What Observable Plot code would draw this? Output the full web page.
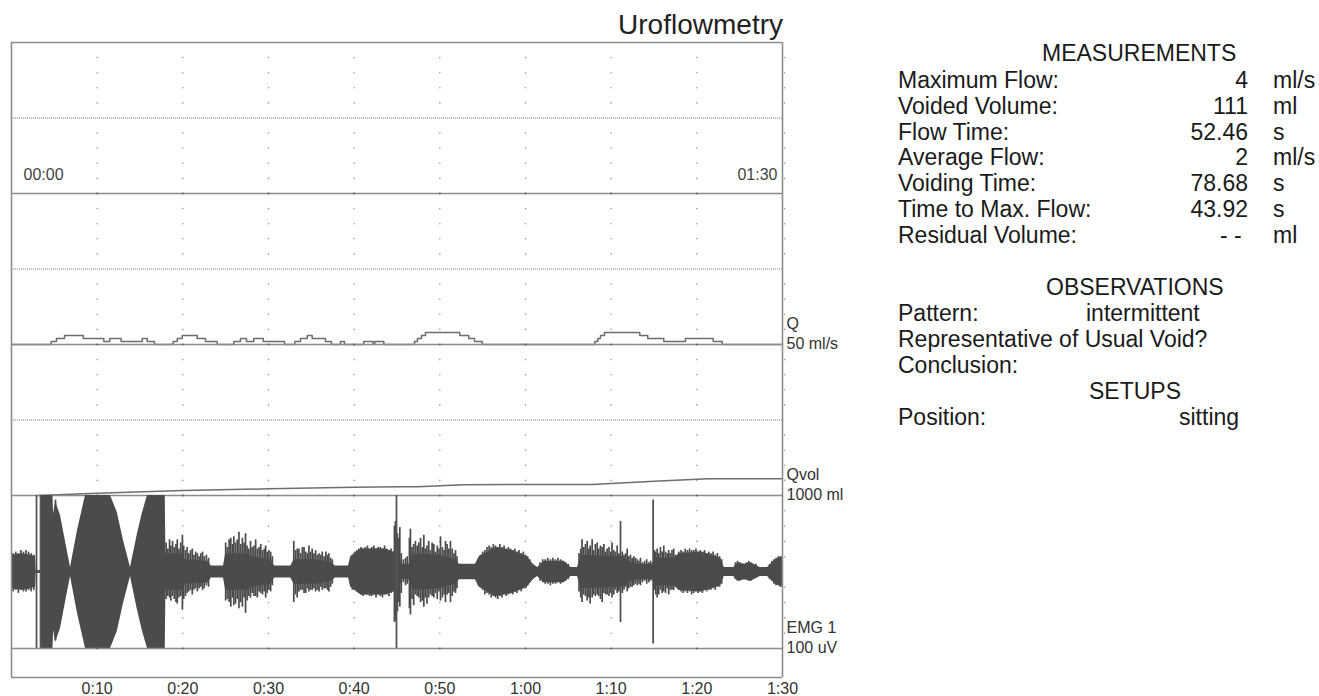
<!DOCTYPE html>
<html>
<head>
<meta charset="utf-8">
<script src="https://cdn.jsdelivr.net/npm/d3@7"></script>
<script src="https://cdn.jsdelivr.net/npm/@observablehq/plot@0.6"></script>
<style>
  html, body { margin: 0; padding: 0; background: #fff; }
  #root { position: relative; width: 1319px; height: 696px; overflow: hidden; font-family: "Liberation Sans", Arial, Helvetica, sans-serif; }
  .layer { position: absolute; left: 0; }
  .txt { position: absolute; white-space: pre; }
</style>
</head>
<body>
<div id="root"></div>
<script>
// ---------------- DATA ----------------
const timeTicks = [10, 20, 30, 40, 50, 60, 70, 80, 90];
const timeTickLabels = ["0:10", "0:20", "0:30", "0:40", "0:50", "1:00", "1:10", "1:20", "1:30"];
const subdivisions = [1, 2, 3, 4, 6, 7, 8, 9];

const channelNames = ["", "Q", "Qvol", "EMG 1"];
const channelScales = ["", "50 ml/s", "1000 ml", "100 uV"];
const channelDomains = [[0, 1], [0, 50], [0, 1000], [-50, 50]];
const startLabel = "00:00";
const endLabel = "01:30";

// Flow Q (ml/s), step trace [time s, flow]
const qSteps = [[0,0],[4.63,1],[5.25,2],[6.19,3],[8.37,2],[10.77,1],[11.47,2],[12.8,1],[15.26,2],[15.84,1],[16.69,0],
  [18.87,1],[19.34,2],[19.93,3],[21.68,2],[22.65,1],[24.01,0],
  [25.95,1],[26.73,2],[27.43,1],[28.28,2],[29.38,1],[31.87,0],
  [33.07,1],[33.73,2],[34.52,3],[35.1,2],[36.65,1],[37.35,0],
  [38.4,1],[38.87,0],[41.12,1],[42.2,0],[42.4,1],[43.46,0],
  [47.04,1],[47.39,2],[47.86,3],[48.32,4],[52.33,3],[53.38,2],[54.05,1],[54.94,0],
  [68.09,1],[68.44,2],[68.75,3],[69.22,4],[73.34,3],[74.27,2],[76.14,1],[78.67,2],[81.91,1],[82.96,0],[90,0]];

// Voided volume Qvol (ml) [time s, volume]
const volume = [[3.0,0],[10,15],[20,33],[30,44],[40,54],[45.4,58],[47.4,58],[52.8,72],[67.8,73],[75,95],[81.3,111],[90,111]];

// EMG core envelope [time s, amplitude uV]
const emgEnvelope = [[0,11],[1.2,12],[2.2,11],[2.8,10],[2.88,1],[3.4,1],[3.45,50],[4.84,50],[4.92,38],[5.14,46],[5.72,37],[6.3,20],[6.89,3],
  [7.7,27],[8.64,50],[11.56,50],[12.34,39],[13.1,20],[13.89,3],[14.67,24],[15.26,38],[15.87,50],[17.95,50],[18.02,12],[19.96,12],[20.3,8],
  [23.0,7],[23.3,4],[24.75,4],[25.0,12],[27.55,12],[28.2,10],[30.3,8],[30.7,4],[32.6,4],[33.0,8],[35.5,8],[37.4,6],
  [37.8,4],[39.34,4],[39.6,10],[40.8,15],[43.6,15],[44.6,13],[45.0,14],[45.6,5],[46.4,5],[46.9,12],[50.0,11],[51.8,8],
  [52.3,5],[54.16,5],[54.6,10],[56.5,16],[58.5,14],[60.2,10],[60.9,5],[61.4,3],[62.2,7],[64.5,7],[65.3,3],[66.07,3],
  [66.5,11],[71.4,10],[72.0,7],[73.1,5],[74.8,5],[75.2,9],[77.4,9],[77.9,12],[80.5,13],[82.8,9],[83.2,3],[84.3,3],
  [84.8,6],[85.6,5],[86.3,6],[87.4,3],[88.25,3],[89.2,8],[90,10]];

// EMG spikes [time s, high uV, low uV]
const emgSpikes = [
  [0.2,12,-13],[0.5,13,-12],[0.8,12,-14],[1.1,14,-12],[1.4,13,-13],[1.7,14,-13],[2.0,13,-12],[2.3,12,-13],[2.6,11,-12],
  [5.14,47,-45],
  [18.05,19,-18],[18.25,15,-16],[18.45,21,-17],[18.6,17,-19],[18.8,20,-16],[19.0,16,-18],[19.2,18,-20],[19.35,21,-21],
  [19.55,15,-17],[19.75,19,-16],[19.95,24,-25],[20.1,17,-18],
  [20.3,14,-16],[20.5,16,-14],[20.7,12,-13],[20.9,14,-12],[21.1,15,-15],[21.3,11,-12],[21.5,13,-11],[21.7,12,-13],
  [21.9,10,-11],[22.1,12,-10],[22.3,13,-12],[22.5,10,-11],[22.75,11,-9],[23.0,9,-10],
  [25.0,19,-19],[25.2,16,-18],[25.4,21,-20],[25.6,22,-23],[25.8,18,-17],[25.95,23,-22],[26.15,19,-21],[26.35,21,-18],
  [26.55,26,-24],[26.75,18,-20],[26.95,22,-23],[27.15,19,-17],[27.32,25,-27],[27.5,17,-19],
  [27.7,15,-16],[27.9,20,-17],[28.1,16,-14],[28.3,17,-16],[28.5,21,-16],[28.7,15,-17],[28.9,16,-13],[29.1,18,-14],
  [29.3,14,-15],[29.5,15,-13],[29.67,17,-17],[29.85,13,-14],[30.05,14,-12],[30.25,13,-13],[30.45,10,-9],
  [32.95,20,-20],[33.15,14,-15],[33.35,15,-17],[33.55,15,-13],[33.75,12,-12],[33.95,16,-12],[34.15,16,-14],[34.35,13,-14],
  [34.55,12,-11],[34.72,17,-13],[34.9,13,-12],[35.1,15,-12],[35.3,12,-11],[35.5,14,-13],[35.7,11,-12],[35.9,12,-13],
  [36.1,11,-10],[36.28,13,-12],[36.5,10,-11],[36.7,13,-11],[36.9,11,-12],[37.05,12,-13],[37.25,9,-10],[37.45,8,-8],
  [39.8,11,-12],[40.05,13,-12],[40.3,14,-13],[40.55,15,-14],[40.8,16,-15],[41.05,15,-16],[41.3,16,-15],[41.55,17,-15],
  [41.8,15,-16],[42.05,16,-16],[42.3,17,-15],[42.55,15,-17],[42.8,16,-15],[43.05,16,-16],[43.3,15,-17],[43.55,17,-15],
  [43.8,15,-15],[44.05,14,-16],[44.3,15,-14],
  [44.7,30,-33],[44.82,33,-32],[45.05,25,-26],[45.2,22,-20],[45.33,29,-23],[45.5,12,-14],[45.75,8,-7],[46.0,9,-9],
  [46.2,10,-8],[46.45,22,-24],[46.57,28,-28],[46.75,16,-18],[46.95,18,-22],[47.15,20,-15],[47.35,17,-16],[47.55,19,-17],
  [47.75,22,-20],[47.95,16,-19],[48.13,24,-23],[48.3,15,-17],[48.5,17,-21],[48.7,20,-17],[48.9,14,-15],[49.1,19,-16],
  [49.3,18,-17],[49.5,13,-14],[49.7,17,-18],[49.9,15,-13],[50.08,23,-19],[50.3,16,-17],[50.5,14,-15],[50.66,20,-20],
  [50.85,18,-15],[51.05,15,-14],[51.24,20,-20],[51.45,15,-16],[51.65,12,-13],[51.83,14,-14],[52.0,10,-11],
  [54.5,8,-9],[54.75,11,-10],[55.0,13,-12],[55.25,14,-15],[55.5,16,-14],[55.75,17,-15],[56.0,16,-17],[56.25,18,-16],
  [56.5,17,-17],[56.75,16,-18],[57.0,18,-16],[57.25,16,-17],[57.5,17,-15],[57.75,15,-16],[58.0,16,-15],[58.25,15,-14],
  [58.5,14,-15],[58.75,15,-13],[59.0,13,-14],[59.25,14,-12],[59.5,12,-13],[59.75,13,-11],[60.0,11,-11],[60.25,10,-9],[60.5,8,-7],
  [61.7,6,-6],[62.0,8,-7],[62.3,8,-8],[62.6,9,-8],[62.9,8,-9],[63.2,9,-8],[63.5,8,-8],[63.8,9,-7],[64.1,8,-8],[64.4,7,-7],
  [64.7,6,-6],[65.0,5,-5],
  [66.25,12,-13],[66.45,15,-17],[66.6,21,-20],[66.8,16,-15],[67.0,18,-16],[67.2,20,-19],[67.4,15,-17],[67.55,17,-21],
  [67.78,21,-17],[67.95,14,-15],[68.15,18,-16],[68.37,19,-15],[68.55,15,-16],[68.75,17,-18],[68.95,16,-20],[69.15,18,-14],
  [69.35,13,-15],[69.53,15,-15],[69.75,16,-16],[69.95,13,-14],[70.1,19,-17],[70.3,14,-15],[70.5,13,-12],[70.7,17,-14],
  [70.9,12,-13],[71.09,33,-33],[71.3,13,-14],[71.5,11,-12],
  [71.7,12,-10],[71.87,15,-13],[72.05,10,-11],[72.25,11,-10],[72.45,9,-10],[72.65,10,-9],[72.85,9,-8],[73.05,8,-9],
  [73.25,7,-8],[73.42,9,-9],[73.65,6,-7],[73.9,7,-6],[74.15,8,-8],[74.4,6,-7],[74.6,7,-6],
  [74.9,47,-47],[75.05,14,-12],[75.2,13,-15],[75.37,15,-17],[75.55,12,-15],[75.75,16,-12],[75.95,13,-14],[76.14,17,-13],
  [76.35,13,-14],[76.55,12,-11],[76.72,14,-15],[76.9,12,-12],[77.1,14,-12],[77.3,15,-12],[77.5,11,-10],
  [77.9,13,-12],[78.15,14,-13],[78.4,13,-14],[78.65,15,-13],[78.9,14,-14],[79.15,15,-13],[79.4,14,-15],[79.65,14,-14],
  [79.9,15,-13],[80.15,13,-14],[80.4,14,-13],[80.65,13,-14],[80.9,14,-12],[81.15,12,-13],[81.4,13,-12],[81.65,12,-12],
  [81.9,13,-11],[82.15,11,-12],[82.4,12,-10],[82.65,10,-10],[82.9,8,-8],
  [84.5,6,-5],[84.75,7,-6],[85.0,6,-6],[85.5,5,-5],[85.8,6,-5],[86.05,7,-6],[86.3,6,-6],[86.6,5,-5],[86.9,5,-4],
  [88.5,5,-5],[88.75,7,-6],[89.0,8,-8],[89.25,9,-9],[89.5,10,-9],[89.75,10,-10]];

// full-scale EMG artefact lines (time s)
const emgArtefacts = [2.92, 3.39, 44.94];

const title = "Uroflowmetry";
const measHeader = "MEASUREMENTS";
const measureLabels = ["Maximum Flow:", "Voided Volume:", "Flow Time:", "Average Flow:", "Voiding Time:", "Time to Max. Flow:", "Residual Volume:"];
const measureValues = ["4", "111", "52.46", "2", "78.68", "43.92", "- - "];
const measureUnits = ["ml/s", "ml", "s", "ml/s", "s", "s", "ml"];
const obsHeader = "OBSERVATIONS";
const obsLabels = ["Pattern:", "Representative of Usual Void?", "Conclusion:"];
const obsValues = ["intermittent", "", ""];
const setupHeader = "SETUPS";
const setupLabels = ["Position:"];
const setupValues = ["sitting"];

// ---------------- LAYOUT ----------------
const FONT = "'Liberation Sans', Arial, Helvetica, sans-serif";
const root = document.getElementById("root");
const X0 = 11, X1 = 782, W = 860;
const LINE = "#8c8c8c";
const TRACE = "#6e6e6e";
const EMG = "#4b4b4b";
const LABEL = "#333";
const sections = [42, 193, 344, 495, 648];
const frameBottom = 677;

function addLayer(svg, top) {
  const div = document.createElement("div");
  div.className = "layer";
  div.style.top = top + "px";
  div.appendChild(svg);
  root.appendChild(div);
}

function channel(i, marks) {
  const pad = 6;
  const top = sections[i], bottom = sections[i + 1];
  const h = bottom - top;
  const domain = channelDomains[i];
  const [d0, d1] = domain;
  const dots = [];
  for (const t of timeTicks) for (const k of subdivisions) dots.push({t, v: d0 + (d1 - d0) * k / 10});
  const lineTicks = timeTicks.filter(t => t < 90);
  const labelMarks = [];
  if (channelNames[i]) {
    labelMarks.push(Plot.text([channelNames[i]], {x: 90, y: d0, dx: 4, dy: -21, textAnchor: "start", fontSize: 16, fill: LABEL}));
    labelMarks.push(Plot.text([channelScales[i]], {x: 90, y: d0, dx: 4, dy: -1, textAnchor: "start", fontSize: 16, fill: LABEL}));
  }
  const svg = Plot.plot({
    width: W, height: h + 2 * pad,
    marginLeft: X0, marginRight: W - X1, marginTop: pad, marginBottom: pad,
    x: {domain: [0, 90], axis: null},
    y: {domain, axis: null},
    style: {background: "transparent", overflow: "visible", fontFamily: FONT},
    marks: [
      Plot.dot(dots.filter(d => d.t < 90), {x: "t", y: "v", r: 0.8, fill: "#9a9a9a", stroke: null}),
      Plot.dot(dots.filter(d => d.t === 90), {x: "t", y: "v", r: 0.8, dx: 2, fill: "#9a9a9a", stroke: null}),
      Plot.ruleY([(d0 + d1) / 2], {stroke: "#777", strokeDasharray: "1,1", strokeWidth: 1}),
      ...marks,
      Plot.ruleY([d0], {stroke: LINE, strokeWidth: 1.6}),
      ...(i === 0 ? [Plot.ruleY([d1], {stroke: LINE, strokeWidth: 1.6})] : []),
      Plot.ruleX([0, 90], {stroke: LINE, strokeWidth: 1.6}),
      Plot.dot(lineTicks, {x: d => d, y: d0, r: 1.1, fill: "#666", stroke: null}),
      ...labelMarks
    ]
  });
  addLayer(svg, top - pad);
}

// top (empty) channel with time stamps
channel(0, [
  Plot.text([startLabel], {x: 0, y: 0, dx: 12, dy: -19, textAnchor: "start", fontSize: 16, fill: "#444"}),
  Plot.text([endLabel], {x: 90, y: 0, dx: -5, dy: -19, textAnchor: "end", fontSize: 16, fill: "#444"})
]);

// Q channel
channel(1, [
  Plot.line(qSteps, {x: d => d[0], y: d => d[1], curve: "step-after", stroke: TRACE, strokeWidth: 1.5})
]);

// Qvol channel
channel(2, [
  Plot.line(volume, {x: d => d[0], y: d => d[1], stroke: TRACE, strokeWidth: 1.5})
]);

// EMG channel
channel(3, [
  Plot.areaY(emgEnvelope, {x: d => d[0], y1: d => -d[1], y2: d => d[1], fill: EMG, curve: "linear"}),
  Plot.ruleX(emgSpikes, {x: d => d[0], y1: d => d[2], y2: d => d[1], stroke: EMG, strokeWidth: 1.7}),
  Plot.ruleX(emgArtefacts, {stroke: "#555", strokeWidth: 1.8})
]);

// bottom strip with time axis
{
  const pad = 6, h = frameBottom - sections[4], mb = 22;
  const svg = Plot.plot({
    width: W, height: h + pad + mb,
    marginLeft: X0, marginRight: W - X1, marginTop: pad, marginBottom: mb,
    x: {domain: [0, 90]},
    y: {domain: [0, 1], axis: null},
    style: {background: "transparent", overflow: "visible", fontFamily: FONT},
    marks: [
      Plot.ruleX([0, 90], {stroke: LINE, strokeWidth: 1.6}),
      Plot.ruleY([0], {stroke: LINE, strokeWidth: 1.6}),
      Plot.axisX(timeTicks, {tickFormat: d => timeTickLabels[timeTicks.indexOf(d)], tickSize: 0, tickPadding: 5, fontSize: 16, fill: LABEL, label: null})
    ]
  });
  addLayer(svg, sections[4] - pad);
}

// ---------------- TEXT ----------------
function txt(str, {left, right, baseline, size = 23, color = "#1a1a1a"}) {
  const d = document.createElement("div");
  d.className = "txt";
  d.textContent = str;
  d.style.fontSize = size + "px";
  d.style.lineHeight = size + "px";
  d.style.color = color;
  d.style.top = (baseline - 0.8465 * size) + "px";
  if (right !== undefined) {
    d.style.left = (right - 600) + "px";
    d.style.width = "600px";
    d.style.textAlign = "right";
  } else {
    d.style.left = left + "px";
  }
  root.appendChild(d);
}

txt(title, {right: 783, baseline: 34.5, size: 28, color: "#222"});

txt(measHeader, {left: 1042, baseline: 61.7});
measureLabels.forEach((s, i) => {
  const b = 88.3 + i * 25.85;
  txt(s, {left: 898, baseline: b});
  txt(measureValues[i], {right: 1248, baseline: b});
  txt(measureUnits[i], {left: 1273, baseline: b});
});
txt(obsHeader, {left: 1046, baseline: 295});
obsLabels.forEach((s, i) => {
  const b = 321.7 + i * 25.8;
  txt(s, {left: 898, baseline: b});
  if (obsValues[i]) txt(obsValues[i], {left: 1086, baseline: b});
});
txt(setupHeader, {left: 1089, baseline: 399});
setupLabels.forEach((s, i) => {
  const b = 425.7 + i * 25.8;
  txt(s, {left: 898, baseline: b});
  txt(setupValues[i], {left: 1179, baseline: b});
});
</script>
</body>
</html>
